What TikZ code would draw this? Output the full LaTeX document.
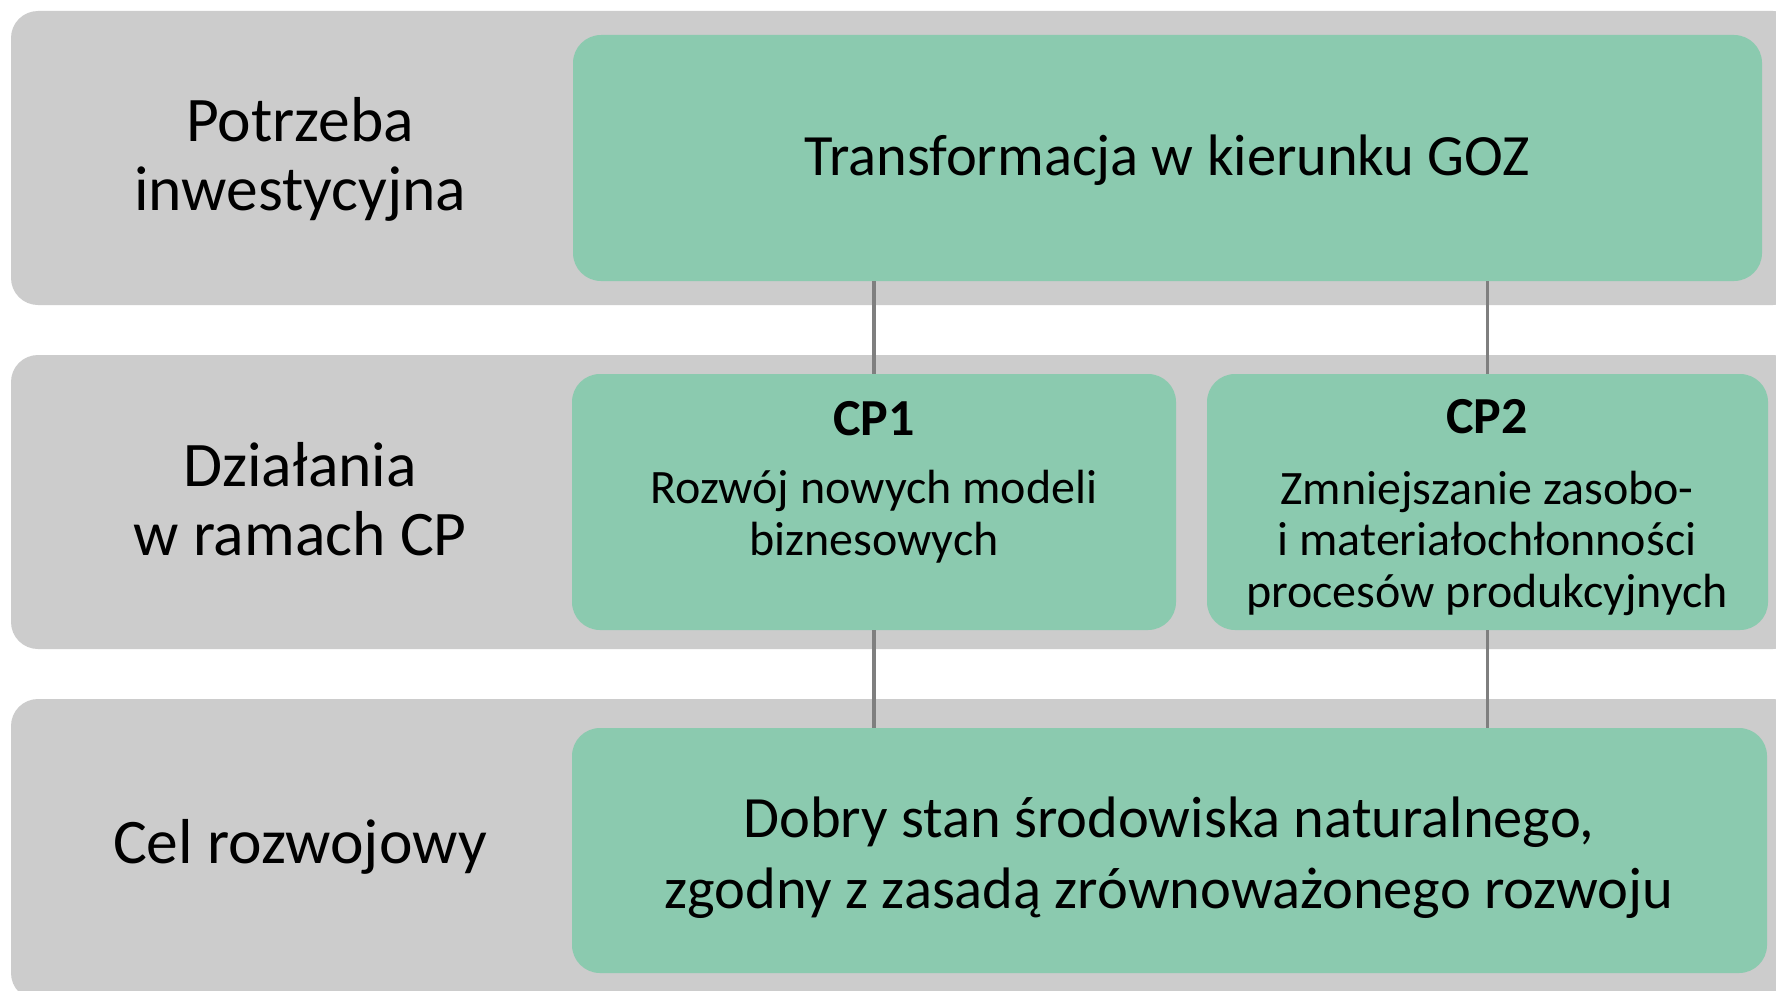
\documentclass[tikz,border=0pt]{standalone}
\usepackage{fontspec}
\setmainfont{Carlito}
\definecolor{bandgray}{HTML}{CCCCCC}
\definecolor{boxgreen}{HTML}{8BCAAF}
\definecolor{linegray}{HTML}{7F7F7F}
\begin{document}
\begin{tikzpicture}[x=1pt,y=-1pt,
  band/.style={fill=bandgray, rounded corners=27pt},
  gbox/.style={fill=boxgreen, draw=none, rounded corners=28pt, inner sep=0pt, outer sep=0pt},
  conn/.style={draw=linegray, line width=3.5pt},
  lbl/.style={align=center, inner sep=0pt, anchor=base, font=\fontsize{63.5}{69}\selectfont},
  big/.style={align=center, inner sep=0pt, anchor=base, font=\fontsize{58.5}{71}\selectfont},
  head/.style={align=center, inner sep=0pt, anchor=base, font=\fontsize{52}{60}\selectfont\bfseries},
  body/.style={align=center, inner sep=0pt, anchor=base, font=\fontsize{48}{51.5}\selectfont}]
\useasboundingbox (0,0) rectangle (1776,990);
\fill[white] (0,0) rectangle (1776,990);
% bands
\path[band] (11,11) rectangle (1800,305);
\path[band] (11,355) rectangle (1800,649);
\path[band] (11,699) rectangle (1800,1000);
% green boxes
\node[gbox, minimum width=1189pt, minimum height=246pt] (top) at (1167.5,158) {};
\node[gbox, minimum width=604pt, minimum height=256pt] (cp1) at (874,502) {};
\node[gbox, minimum width=561pt, minimum height=256pt] (cp2) at (1487.5,502) {};
\node[gbox, minimum width=1195pt, minimum height=245pt] (bot) at (1169.5,850.5) {};
% connectors
\draw[conn] (top.south -| cp1.north) -- (cp1.north);
\draw[conn] (top.south -| cp2.north) -- (cp2.north);
\draw[conn] (cp1.south) -- (bot.north -| cp1.south);
\draw[conn] (cp2.south) -- (bot.north -| cp2.south);
% left labels (anchor = baseline of last line)
\node[lbl] (l1) at (300,210) {Potrzeba\\inwestycyjna};
\node[lbl] (l2) at (300,555) {Działania\\w ramach CP};
\node[lbl] (l3) at (300,863) {Cel rozwojowy};
% box texts
\node[big] (ttop) at (1167,175) {Transformacja w kierunku GOZ};
\node[head] (h1) at (874,435) {CP1};
\node[body] (b1) at (874,555) {Rozwój nowych modeli\\biznesowych};
\node[head] (h2) at (1487,433) {CP2};
\node[body] (b2) at (1487,607) {Zmniejszanie zasobo-\\i materiałochłonności\\procesów produkcyjnych};
\node[big] (tbot) at (1169,908) {Dobry stan środowiska naturalnego,\\zgodny z zasadą zrównoważonego rozwoju};
\end{tikzpicture}
\end{document}
